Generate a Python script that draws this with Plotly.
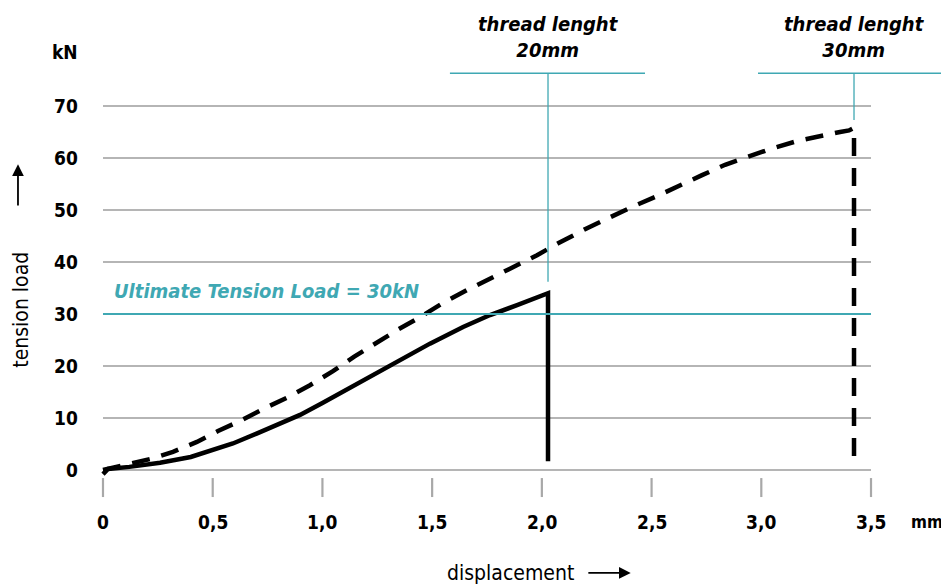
import plotly.graph_objects as go

# ---- data ----
solid_x = [0.0, 0.023, 0.12, 0.26, 0.40, 0.497, 0.592, 0.70, 0.80, 0.898, 1.0, 1.126, 1.25, 1.413, 1.49, 1.641, 1.764, 1.887, 1.96, 2.028, 2.028]
solid_y = [-0.8, 0.2, 0.6, 1.4, 2.5, 3.7, 5.1, 7.0, 8.8, 10.6, 12.9, 15.8, 18.6, 22.5, 24.3, 27.5, 29.8, 31.7, 33.0, 34.0, 1.7]

dash_x = [0.0, 0.109, 0.214, 0.319, 0.428, 0.524, 0.633, 0.738, 0.843, 0.943, 1.048, 1.145, 1.240, 1.340, 1.445, 1.549, 1.659, 1.764, 1.868, 1.978, 2.074,
          2.206, 2.301, 2.411, 2.516, 2.620, 2.730, 2.835, 2.948, 3.053, 3.167, 3.281, 3.359, 3.400, 3.4225, 3.4225]
dash_y = [0.0, 1.0, 2.1, 3.5, 5.4, 7.5, 9.6, 11.9, 14.0, 16.3, 19.0, 21.8, 24.4, 26.9, 29.4, 32.1, 34.6, 36.9, 39.0, 41.3, 43.6,
          46.5, 48.5, 50.6, 52.5, 54.6, 56.7, 58.7, 60.4, 61.9, 63.3, 64.4, 65.0, 65.3, 65.8, 1.6]

uts_value = 30
x_ticks = [0, 0.5, 1.0, 1.5, 2.0, 2.5, 3.0, 3.5]
x_tick_labels = ["0", "0,5", "1,0", "1,5", "2,0", "2,5", "3,0", "3,5"]
y_ticks = [0, 10, 20, 30, 40, 50, 60, 70]
y_tick_labels = ["0", "10", "20", "30", "40", "50", "60", "70"]
break_20 = 2.028
break_30 = 3.4225

# ---- style ----
FONT = "Liberation Sans Narrow, DejaVu Sans Condensed, Roboto, sans-serif"
TEAL = "#3fa8b3"
GRID = "#9d9d9d"

fig = go.Figure()

shapes = []
# gridlines
for yv in y_ticks:
    shapes.append(dict(type="line", xref="x", yref="y", x0=0, x1=3.5, y0=yv, y1=yv,
                       line=dict(color=GRID, width=1.3), layer="below"))
# x tick marks
for xv in x_ticks:
    shapes.append(dict(type="line", xref="x", yref="y", x0=xv, x1=xv, y0=-1.55, y1=-5.2,
                       line=dict(color="#a8a8a8", width=2.2), layer="below"))
# ultimate tension load line
shapes.append(dict(type="line", xref="x", yref="y", x0=0, x1=3.5, y0=uts_value, y1=uts_value,
                   line=dict(color=TEAL, width=2)))
# thread length brackets
shapes.append(dict(type="line", xref="x", yref="y", x0=break_20, x1=break_20, y0=36.2, y1=76.3,
                   line=dict(color=TEAL, width=1.3)))
shapes.append(dict(type="line", xref="x", yref="y", x0=1.581, x1=2.470, y0=76.3, y1=76.3,
                   line=dict(color=TEAL, width=1.3)))
shapes.append(dict(type="line", xref="x", yref="y", x0=break_30, x1=break_30, y0=67.3, y1=76.3,
                   line=dict(color=TEAL, width=1.3)))
shapes.append(dict(type="line", xref="x", yref="y", x0=2.985, x1=3.86, y0=76.3, y1=76.3,
                   line=dict(color=TEAL, width=1.3)))

fig.add_trace(go.Scatter(x=dash_x, y=dash_y, mode="lines",
                         line=dict(color="black", width=4.5, dash="18px,12px"),
                         hoverinfo="skip", showlegend=False))
fig.add_trace(go.Scatter(x=solid_x, y=solid_y, mode="lines",
                         line=dict(color="black", width=4.5),
                         hoverinfo="skip", showlegend=False))

ann = []
tick_font = dict(family=FONT, size=19, color="black", weight="bold")
for xv, lab in zip(x_ticks, x_tick_labels):
    ann.append(dict(x=xv, y=-10, text=lab, showarrow=False, xanchor="center", yanchor="middle", font=tick_font))
ann.append(dict(x=3.835, y=-10, text="mm", showarrow=False, xanchor="right", yanchor="middle",
                font=dict(family=FONT, size=17, color="black", weight="bold")))
for yv, lab in zip(y_ticks, y_tick_labels):
    ann.append(dict(x=-0.105, y=yv, text=lab, showarrow=False, xanchor="right", yanchor="middle", font=tick_font))
ann.append(dict(x=-0.105, y=80.4, text="kN", showarrow=False, xanchor="right", yanchor="middle", font=tick_font))

ann.append(dict(x=-0.374, y=30.8, text="tension load", textangle=-90, showarrow=False,
                xanchor="center", yanchor="middle", font=dict(family=FONT, size=21, color="black")))
ann.append(dict(x=1.855, y=-19.8, text="displacement", showarrow=False,
                xanchor="center", yanchor="middle", font=dict(family=FONT, size=21, color="black")))
# axis arrows
ann.append(dict(x=-0.3874, y=58.8, ax=-0.3874, ay=50.6, axref="x", ayref="y", xref="x", yref="y",
                text="", showarrow=True, arrowhead=2, arrowsize=1.3, arrowwidth=1.8, arrowcolor="black"))
ann.append(dict(x=2.405, y=-19.8, ax=2.205, ay=-19.8, axref="x", ayref="y", xref="x", yref="y",
                text="", showarrow=True, arrowhead=2, arrowsize=1.3, arrowwidth=1.8, arrowcolor="black"))

bi_font = dict(family=FONT, size=20, color="black", weight="bold", style="italic")
ann.append(dict(x=break_20, y=83.3, text="thread lenght<br>20mm", showarrow=False,
                xanchor="center", yanchor="middle", font=bi_font))
ann.append(dict(x=break_30, y=83.3, text="thread lenght<br>30mm", showarrow=False,
                xanchor="center", yanchor="middle", font=bi_font))
ann.append(dict(x=0.041, y=34.4, text="Ultimate Tension Load = 30kN", showarrow=False,
                xanchor="left", yanchor="middle",
                font=dict(family=FONT, size=20, color=TEAL, weight="bold", style="italic")))

# page body has an 8px margin: figure is 941x580 drawn at offset (8,8)
fig.update_layout(
    width=941, height=580,
    margin=dict(l=0, r=0, t=0, b=0),
    paper_bgcolor="white", plot_bgcolor="white",
    xaxis=dict(range=[-0.4329, 3.8554], visible=False, fixedrange=True),
    yaxis=dict(range=[-22.692, 88.846], visible=False, fixedrange=True),
    shapes=shapes, annotations=ann, showlegend=False,
)

fig.write_html("out.html")
